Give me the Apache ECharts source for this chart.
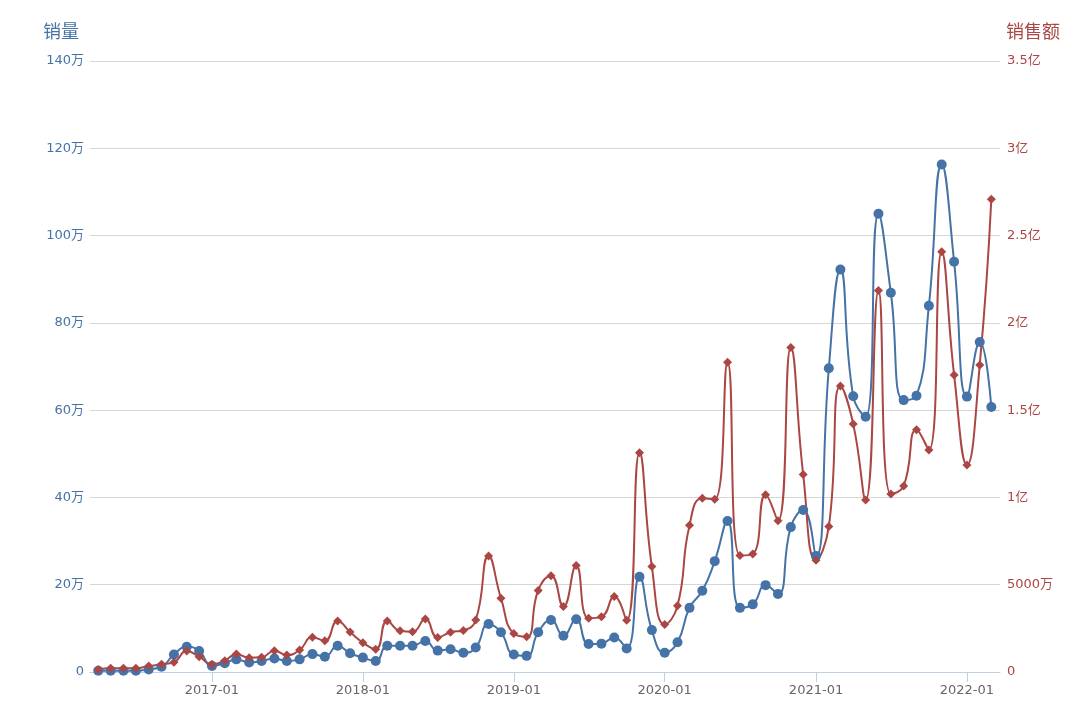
<!DOCTYPE html>
<html>
<head>
<meta charset="utf-8">
<script src="https://cdn.jsdelivr.net/npm/echarts@6.0.0/dist/echarts.min.js"></script>
<style>
  html, body { margin: 0; padding: 0; background: #fff; }
  #chart { width: 1080px; height: 728px; }
</style>
</head>
<body>
<div id="chart"></div>
<script>
// months, 2016-04 .. 2022-03
const months = [
  "2016-04","2016-05","2016-06","2016-07","2016-08","2016-09","2016-10","2016-11","2016-12",
  "2017-01","2017-02","2017-03","2017-04","2017-05","2017-06","2017-07","2017-08","2017-09","2017-10","2017-11","2017-12",
  "2018-01","2018-02","2018-03","2018-04","2018-05","2018-06","2018-07","2018-08","2018-09","2018-10","2018-11","2018-12",
  "2019-01","2019-02","2019-03","2019-04","2019-05","2019-06","2019-07","2019-08","2019-09","2019-10","2019-11","2019-12",
  "2020-01","2020-02","2020-03","2020-04","2020-05","2020-06","2020-07","2020-08","2020-09","2020-10","2020-11","2020-12",
  "2021-01","2021-02","2021-03","2021-04","2021-05","2021-06","2021-07","2021-08","2021-09","2021-10","2021-11","2021-12",
  "2022-01","2022-02","2022-03"
];

// 销量, unit: 万
const volume = [
  0.3, 0.3, 0.3, 0.3, 0.6, 1.2, 4.0, 5.8, 4.8,
  1.4, 2.0, 2.9, 2.2, 2.5, 3.1, 2.5, 2.9, 4.1, 3.5, 6.0, 4.3,
  3.3, 2.5, 6.0, 6.0, 6.0, 7.1, 4.9, 5.2, 4.4, 5.6, 11.0, 9.1,
  4.0, 3.7, 9.1, 11.9, 8.3, 12.1, 6.4, 6.5, 7.9, 5.4, 21.8, 9.6,
  4.4, 6.8, 14.7, 18.6, 25.4, 34.6, 14.7, 15.5, 19.9, 17.9, 33.2, 37.1,
  26.6, 69.6, 92.2, 63.2, 58.5, 105.0, 86.9, 62.3, 63.3, 83.9, 116.3, 94.0,
  63.1, 75.6, 60.7
];

// 销售额, unit: 万元
const amount = [
  150, 210, 210, 210, 340, 440, 560, 1200, 880,
  440, 650, 1030, 820, 840, 1220, 970, 1260, 1990, 1790, 2920, 2290,
  1680, 1310, 2920, 2360, 2300, 3030, 1980, 2280, 2380, 2980, 6640, 4230,
  2200, 2020, 4670, 5510, 3750, 6100, 3080, 3160, 4320, 2960, 12560, 6040,
  2720, 3790, 8400, 9960, 9900, 17750, 6680, 6760, 10160, 8670, 18590, 11310,
  6400, 8340, 16380, 14200, 9850, 21860, 10190, 10660, 13880, 12720, 24080, 17020,
  11860, 17590, 27080
];

const toDate = s => {
  const [y, m] = s.split("-");
  return new Date(+y, +m - 1, 1);
};

const font = "DejaVu Sans, Noto Sans CJK SC, sans-serif";
const blue = "#4572A7";
const red = "#AA4643";

const chart = echarts.init(document.getElementById("chart"));
chart.setOption({
  animation: false,
  textStyle: { fontFamily: font },
  grid: { left: 90, right: 80, top: 61, bottom: 56, containLabel: false },
  xAxis: {
    type: "time",
    min: new Date(2016, 2, 12).getTime(),
    max: new Date(2022, 2, 22).getTime(),
    minInterval: 365 * 24 * 3600 * 1000,
    splitLine: { show: false },
    axisLine: { lineStyle: { color: "#C0D0E0", width: 1 } },
    axisTick: { show: true, length: 10, lineStyle: { color: "#C0D0E0" } },
    axisLabel: {
      color: "#666",
      fontSize: 13,
      fontFamily: font,
      margin: 12,
      showMinLabel: false,
      showMaxLabel: false,
      formatter: v => {
        const d = new Date(v);
        if (d.getMonth() === 0 && d.getDate() === 1) return d.getFullYear() + "-01";
        return "";
      }
    }
  },
  yAxis: [
    {
      type: "value",
      name: "销量",
      nameLocation: "end",
      nameGap: 28,
      nameTextStyle: { color: blue, fontSize: 18, fontFamily: font, align: "right", verticalAlign: "middle", padding: [0, 11, 0, 0] },
      min: 0, max: 140, interval: 20,
      axisLine: { show: false },
      axisTick: { show: false },
      splitLine: { lineStyle: { color: "#D6D6D6", width: 1 } },
      axisLabel: {
        color: blue, fontSize: 13, fontFamily: font, margin: 6,
        formatter: v => (v === 0 ? "0" : v + "万")
      }
    },
    {
      type: "value",
      name: "销售额",
      nameLocation: "end",
      nameGap: 28,
      nameTextStyle: { color: red, fontSize: 18, fontFamily: font, align: "left", verticalAlign: "middle", padding: [0, 0, 0, 6] },
      min: 0, max: 35000, interval: 5000,
      axisLine: { show: false },
      axisTick: { show: false },
      splitLine: { show: false },
      axisLabel: {
        color: red, fontSize: 13, fontFamily: font, margin: 7,
        formatter: v => (v === 0 ? "0" : v < 10000 ? v + "万" : v / 10000 + "亿")
      }
    }
  ],
  series: [
    {
      name: "销量",
      type: "line",
      yAxisIndex: 0,
      smooth: 0.5,
      symbol: "circle",
      symbolSize: 10,
      lineStyle: { color: blue, width: 2 },
      itemStyle: { color: blue },
      data: months.map((m, i) => [toDate(m).getTime(), volume[i]])
    },
    {
      name: "销售额",
      type: "line",
      yAxisIndex: 1,
      smooth: 0.5,
      symbol: "diamond",
      symbolSize: 9,
      lineStyle: { color: red, width: 2 },
      itemStyle: { color: red },
      data: months.map((m, i) => [toDate(m).getTime(), amount[i]])
    }
  ]
});
window.addEventListener("resize", () => chart.resize());
</script>
</body>
</html>
